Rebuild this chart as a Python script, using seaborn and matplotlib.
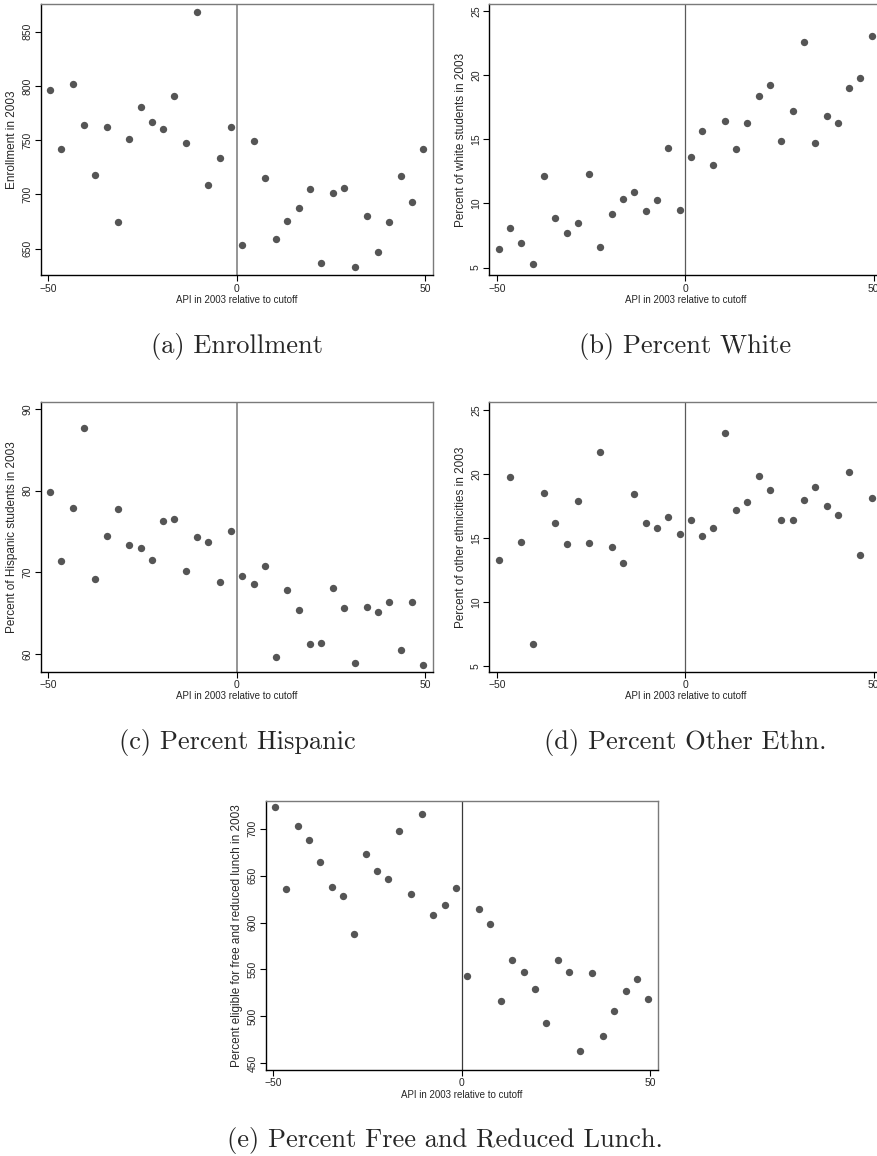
import matplotlib
matplotlib.use("Agg")
import matplotlib.pyplot as plt
import pandas as pd
import seaborn as sns

# Bin centres of the running variable (API relative to cutoff, 3-point bins)
api_bins = [-49.5, -46.5, -43.5, -40.5, -37.5, -34.5, -31.5, -28.5, -25.5,
            -22.5, -19.5, -16.5, -13.5, -10.5, -7.5, -4.5, -1.5,
            1.5, 4.5, 7.5, 10.5, 13.5, 16.5, 19.5, 22.5, 25.5,
            28.5, 31.5, 34.5, 37.5, 40.5, 43.5, 46.5, 49.5]

enrollment = [796, 741.5, 801.5, 764, 718, 762.5, 674.5, 751, 780.5, 766.5,
              760.5, 791, 747, 868.5, 708.5, 733.5, 762.5,
              653, 749, 715, 659, 675, 687, 704.5, 636.5, 701.5,
              706, 633, 680, 646.5, 674.5, 717, 693, 741.5]

pct_white = [6.48, 8.09, 6.90, 5.26, 12.12, 8.84, 7.68, 8.45, 12.30, 6.64,
             9.16, 10.35, 10.87, 9.39, 10.25, 14.32, 9.47,
             13.60, 15.62, 12.97, 16.45, 14.25, 16.27, 18.38, 19.21, 14.84,
             17.18, 22.56, 14.69, 16.79, 16.25, 19.0, 19.78, 23.08]

pct_hispanic = [79.8, 71.4, 77.9, 87.7, 69.2, 74.4, 77.7, 73.3, 73.0, 71.5,
                76.3, 76.5, 70.1, 74.3, 73.7, 68.8, 75.0,
                69.5, 68.5, 70.8, 59.6, 67.8, 65.4, 61.2, 61.3, 68.0,
                65.6, 58.9, 65.7, 65.1, 66.4, 60.5, 66.3, 58.6]

pct_other = [13.26, 19.79, 14.71, 6.74, 18.54, 16.20, 14.51, 17.89, 14.58, 21.69,
             14.27, 13.02, 18.41, 16.20, 15.78, 16.61, 15.34,
             16.38, 15.16, 15.78, 23.20, 17.16, 17.81, 19.84, 18.78, 16.38,
             16.38, 17.94, 18.96, 17.50, 16.77, 20.16, 13.65, 18.15]

pct_lunch = [722.7, 635.4, 702.8, 687.6, 664.1, 637.5, 628.6, 587.4, 672.7, 655.3,
             646.7, 697.9, 630.4, 715.3, 607.7, 618.3, 637.1,
             542.7, 614.4, 598.1, 516.1, 560.1, 546.9, 528.8, 493.3, 559.7,
             546.9, 462.8, 546.2, 478.8, 505.4, 527.4, 540.2, 518.2]

x_ticks = [-50, 0, 50]
x_label = "API in 2003 relative to cutoff"

panels = [
    dict(y=enrollment, ylabel="Enrollment in 2003", yticks=[650, 700, 750, 800, 850],
         ylim=(625.4, 875.5), caption="(a) Enrollment"),
    dict(y=pct_white, ylabel="Percent of white students in 2003", yticks=[5, 10, 15, 20, 25],
         ylim=(4.4, 25.55), caption="(b) Percent White"),
    dict(y=pct_hispanic, ylabel="Percent of Hispanic students in 2003", yticks=[60, 70, 80, 90],
         ylim=(57.8, 90.9), caption="(c) Percent Hispanic"),
    dict(y=pct_other, ylabel="Percent of other ethnicities in 2003", yticks=[5, 10, 15, 20, 25],
         ylim=(4.56, 25.6), caption="(d) Percent Other Ethn."),
    dict(y=pct_lunch, ylabel="Percent eligible for free and reduced lunch in 2003",
         yticks=[450, 500, 550, 600, 650, 700],
         ylim=(442.9, 729.8), caption="(e) Percent Free and Reduced Lunch."),
]

sns.set_style("white")
plt.rcParams["font.family"] = ["Liberation Sans", "DejaVu Sans"]

W, H = 878, 1156
fig = plt.figure(figsize=(W / 100, H / 100), dpi=100)

# axes boxes in pixels: left, top, right, bottom
boxes = [
    (40.7, 4.0, 433.3, 275.3),
    (489.3, 4.0, 881.9, 275.3),
    (40.7, 401.7, 433.3, 671.7),
    (489.3, 402.3, 881.9, 671.7),
    (265.7, 800.7, 658.3, 1070.0),
]
caption_pos = [(237, 346), (685, 346), (237, 742), (685, 742), (445, 1141)]
cutoff_style = [("#8c8c8c", 1.3), ("#5a5a5a", 0.9), ("#8c8c8c", 1.3),
                ("#5a5a5a", 0.9), ("#3a3a3a", 0.9)]

for p, (l, t, r, b), (cx, cy), (lc, lw) in zip(panels, boxes, caption_pos, cutoff_style):
    ax = fig.add_axes([l / W, 1 - b / H, (r - l) / W, (b - t) / H])
    df = pd.DataFrame({"api": api_bins, "value": p["y"]})
    ax.axvline(0, color=lc, lw=lw, zorder=1)
    sns.scatterplot(data=df, x="api", y="value", ax=ax, color="#555555",
                    s=28, linewidth=0, zorder=3)
    ax.set_xlim(-52, 52.2)
    ax.set_ylim(*p["ylim"])
    ax.set_xticks(x_ticks)
    ax.set_xticklabels(["\u221250", "0", "50"])
    ax.set_yticks(p["yticks"])
    ax.set_yticklabels([str(v) for v in p["yticks"]], rotation=90, va="center")
    ax.tick_params(axis="both", direction="out", length=4, width=0.8,
                   color="black", labelsize=7.5, pad=2, left=True, bottom=True)
    ax.set_xlabel(x_label, fontsize=7, labelpad=1)
    ax.set_ylabel(p["ylabel"], fontsize=8.5, labelpad=3)
    for side in ("left", "bottom"):
        ax.spines[side].set_color("black")
        ax.spines[side].set_linewidth(1.0)
    for side in ("top", "right"):
        ax.spines[side].set_color("#7a7a7a")
        ax.spines[side].set_linewidth(1.0)
    fig.text(cx / W, 1 - cy / H, p["caption"], ha="center", va="center",
             family="cmr10", fontsize=19)

fig.savefig("out.png", dpi=100)
